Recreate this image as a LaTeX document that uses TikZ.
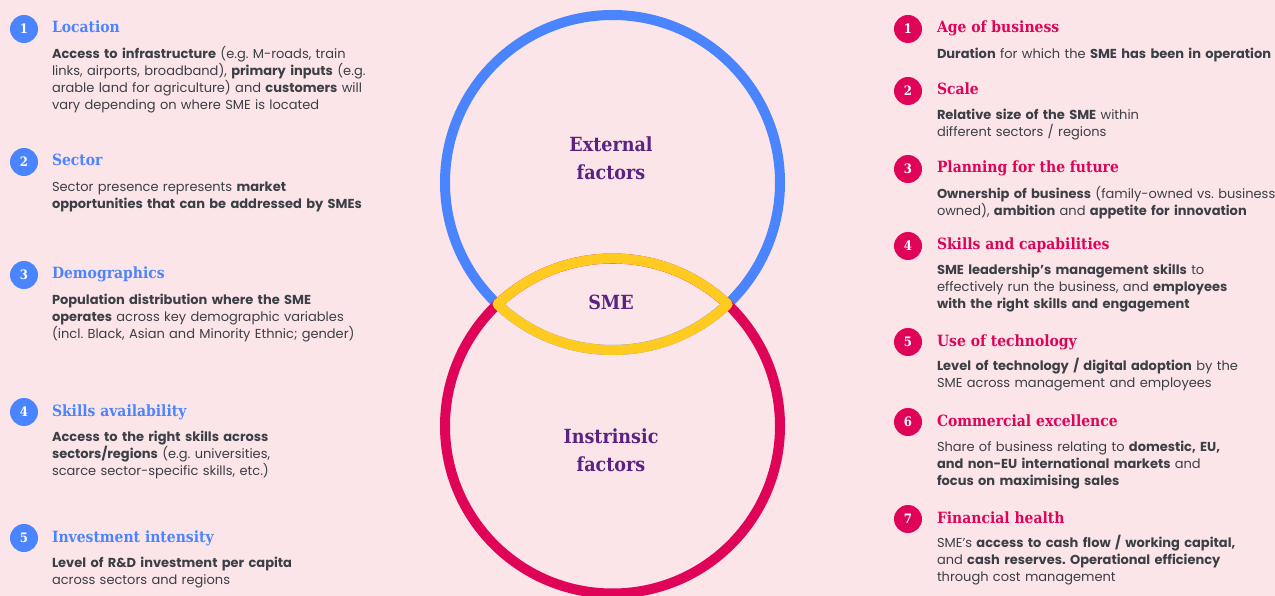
\documentclass[tikz,border=0pt]{standalone}
\usepackage{fontspec}
\setmainfont{Poppins}
\newfontfamily\headfont[FakeStretch=0.9]{DejaVu Serif}
\frenchspacing

\definecolor{pagebg}{HTML}{FCE5E9}
\definecolor{extblue}{HTML}{4A85FF}
\definecolor{intred}{HTML}{DF0457}
\definecolor{smeyellow}{HTML}{FFCB20}
\definecolor{labelpurple}{HTML}{5A2382}
\definecolor{bodygray}{HTML}{3B3F46}

\begin{document}
\begin{tikzpicture}[x=1pt,y=-1pt,
  every node/.style={inner sep=0pt, outer sep=0pt},
  numdot/.style={circle, fill=#1, minimum size=28pt, text=white,
    font=\headfont\bfseries\fontsize{13}{13}\selectfont},
  headtext/.style={anchor=base west, text=#1,
    font=\headfont\bfseries\fontsize{15.5}{18}\selectfont},
  bodytext/.style={anchor=base west, text width=345pt, align=left, text=bodygray,
    font=\fontsize{13}{17}\selectfont},
  ringlabel/.style={align=center, text=labelpurple,
    font=\headfont\bfseries\fontsize{19.5}{28}\selectfont},
  ring/.style={circle, draw=#1, line width=10pt, minimum size=335pt}
]
% page
\fill[pagebg] (0,0) rectangle (1275,596);
\useasboundingbox (0,0) rectangle (1275,596);

% the two overlapping rings and their shared lens
\node[ring=extblue] (ext) at (612.5,182.5) {};
\node[ring=intred]  (int) at (612.5,426) {};
\draw[smeyellow, line width=10pt, line join=round]
  (497.5,304.25) arc[start angle=226.6, end angle=313.4, radius=167.5]
  arc[start angle=46.6, end angle=133.4, radius=167.5] -- cycle;

\node[ringlabel] (extlabel) at (611,158) {External\\factors};
\node[ringlabel] (smelabel) at (611,302) {SME};
\node[ringlabel] (intlabel) at (611,450) {Instrinsic\\factors};

% external factors (left column)
\node[numdot=extblue] (l1n) at (24,29) {1};
\node[headtext=extblue] (l1h) at (52,33) {Location};
\node[bodytext] (l1b) at (52,58.5) {\textbf{Access to infrastructure} (e.g. M-roads, train\\
  links, airports, broadband), \textbf{primary inputs} (e.g.\\
  arable land for agriculture) and \textbf{customers} will\\
  vary depending on where SME is located};

\node[numdot=extblue] (l2n) at (24,162) {2};
\node[headtext=extblue] (l2h) at (52,166) {Sector};
\node[bodytext] (l2b) at (52,191.5) {Sector presence represents \textbf{market}\\
  \textbf{opportunities that can be addressed by SMEs}};

\node[numdot=extblue] (l3n) at (24,275) {3};
\node[headtext=extblue] (l3h) at (52,279) {Demographics};
\node[bodytext] (l3b) at (52,304.5) {\textbf{Population distribution where the SME}\\
  \textbf{operates} across key demographic variables\\
  (incl. Black, Asian and Minority Ethnic; gender)};

\node[numdot=extblue] (l4n) at (24,412) {4};
\node[headtext=extblue] (l4h) at (52,416) {Skills availability};
\node[bodytext] (l4b) at (52,441.5) {\textbf{Access to the right skills across}\\
  \textbf{sectors/regions} (e.g. universities,\\
  scarce sector-specific skills, etc.)};

\node[numdot=extblue] (l5n) at (24,538) {5};
\node[headtext=extblue] (l5h) at (52,542) {Investment intensity};
\node[bodytext] (l5b) at (52,567.5) {\textbf{Level of R\&D investment per capita}\\
  across sectors and regions};

% intrinsic factors (right column)
\node[numdot=intred] (r1n) at (908,29) {1};
\node[headtext=intred] (r1h) at (937,33) {Age of business};
\node[bodytext] (r1b) at (937,58.5) {\textbf{Duration} for which the \textbf{SME has been in operation}};

\node[numdot=intred] (r2n) at (908,91) {2};
\node[headtext=intred] (r2h) at (937,95) {Scale};
\node[bodytext] (r2b) at (937,119.5) {\textbf{Relative size of the SME} within\\
  different sectors / regions};

\node[numdot=intred] (r3n) at (908,169) {3};
\node[headtext=intred] (r3h) at (937,173) {Planning for the future};
\node[bodytext] (r3b) at (937,198.5) {\textbf{Ownership of business} (family-owned vs. business\\
  owned), \textbf{ambition} and \textbf{appetite for innovation}};

\node[numdot=intred] (r4n) at (908,246) {4};
\node[headtext=intred] (r4h) at (937,250) {Skills and capabilities};
\node[bodytext] (r4b) at (937,274.5) {\textbf{SME leadership’s management skills} to\\
  effectively run the business, and \textbf{employees}\\
  \textbf{with the right skills and engagement}};

\node[numdot=intred] (r5n) at (908,342) {5};
\node[headtext=intred] (r5h) at (937,346) {Use of technology};
\node[bodytext] (r5b) at (937,370.5) {\textbf{Level of technology / digital adoption} by the\\
  SME across management and employees};

\node[numdot=intred] (r6n) at (908,422) {6};
\node[headtext=intred] (r6h) at (937,426) {Commercial excellence};
\node[bodytext] (r6b) at (937,451.5) {Share of business relating to \textbf{domestic, EU,}\\
  \textbf{and non-EU international markets} and\\
  \textbf{focus on maximising sales}};

\node[numdot=intred] (r7n) at (908,519) {7};
\node[headtext=intred] (r7h) at (937,523) {Financial health};
\node[bodytext] (r7b) at (937,547.5) {SME’s \textbf{access to cash flow / working capital,}\\
  and \textbf{cash reserves. Operational efficiency}\\
  through cost management};
\end{tikzpicture}
\end{document}
